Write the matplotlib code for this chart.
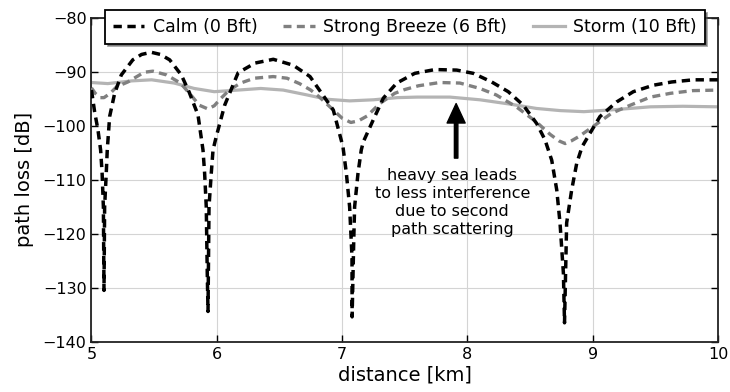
import matplotlib
matplotlib.use('Agg')
import matplotlib.pyplot as plt

# Path loss over distance for three sea states
calm_x = [5.0, 5.025, 5.052, 5.073, 5.085, 5.095, 5.1, 5.105, 5.118, 5.126, 5.145, 5.185,
          5.238, 5.33, 5.4, 5.477, 5.55, 5.624, 5.717, 5.78, 5.85, 5.89, 5.903, 5.916,
          5.924, 5.93, 5.938, 5.956, 5.97, 5.996, 6.063, 6.17, 6.305, 6.451, 6.61, 6.744,
          6.837, 6.93, 7.007, 7.034, 7.06, 7.079, 7.08, 7.093, 7.1, 7.127, 7.153, 7.169,
          7.249, 7.329, 7.436, 7.58, 7.741, 7.915, 8.047, 8.194, 8.326, 8.446, 8.553, 8.619,
          8.673, 8.713, 8.739, 8.766, 8.775, 8.792, 8.832, 8.872, 8.915, 8.978, 9.058, 9.191,
          9.324, 9.484, 9.63, 9.803, 10.0]
calm_y = [-93.4, -97.4, -100.8, -104.5, -108.8, -115.0, -130.5, -115.0, -108.8, -104.5, -98.3, -94.0,
          -90.6, -87.8, -86.8, -86.4, -86.8, -87.8, -90.6, -93.8, -98.0, -104.5, -108.8, -115.0,
          -127.3, -134.4, -115.0, -108.8, -104.5, -102.0, -96.2, -90.2, -88.4, -87.7, -88.8, -90.9,
          -94.0, -97.1, -103.9, -108.8, -115.0, -124.3, -135.4, -121.2, -115.0, -108.8, -104.5, -103.0,
          -98.9, -94.9, -92.1, -90.3, -89.6, -89.7, -90.3, -91.9, -93.7, -96.2, -99.6, -102.6,
          -106.4, -111.9, -118.0, -127.3, -136.5, -118.0, -111.9, -107.0, -103.9, -101.4, -98.3, -95.6,
          -93.7, -92.5, -91.9, -91.5, -91.5]

breeze_x = [5.0, 5.03, 5.07, 5.1, 5.15, 5.2, 5.29, 5.42, 5.49, 5.6, 5.71, 5.8, 5.86, 5.93,
            5.98, 6.03, 6.1, 6.19, 6.3, 6.45, 6.56, 6.66, 6.75, 6.82, 6.93, 7.0, 7.07, 7.13,
            7.2, 7.3, 7.42, 7.5, 7.61, 7.78, 7.94, 8.1, 8.23, 8.39, 8.55, 8.66, 8.73, 8.78,
            8.83, 8.89, 9.0, 9.15, 9.3, 9.46, 9.62, 9.8, 10.0]
breeze_y = [-93.0, -94.0, -94.8, -94.8, -94.0, -92.8, -91.9, -90.1, -89.9, -90.6, -92.1, -94.5, -96.2, -96.9,
            -96.3, -95.0, -93.4, -92.1, -91.2, -90.9, -91.2, -92.2, -93.4, -94.7, -97.1, -98.6, -99.4, -99.1,
            -98.2, -95.9, -94.0, -93.3, -92.6, -92.0, -92.1, -93.1, -94.3, -96.5, -99.3, -101.6, -102.8, -103.3,
            -102.8, -102.0, -100.2, -97.7, -96.2, -94.7, -94.0, -93.5, -93.4]

storm_x = [5.0, 5.13, 5.32, 5.48, 5.66, 5.82, 5.98, 6.17, 6.35, 6.53, 6.72, 6.88, 7.06,
           7.25, 7.44, 7.6, 7.86, 8.1, 8.34, 8.55, 8.74, 8.93, 9.19, 9.46, 9.72, 10.0]
storm_y = [-92.0, -92.2, -91.7, -91.5, -92.1, -93.1, -93.7, -93.4, -93.1, -93.4, -94.3, -95.1, -95.4,
           -95.2, -94.8, -94.7, -94.7, -95.2, -96.0, -96.8, -97.2, -97.4, -97.0, -96.5, -96.4, -96.5]

x_ticks = [5, 6, 7, 8, 9, 10]
y_ticks = [-140, -130, -120, -110, -100, -90, -80]

note = 'heavy sea leads\nto less interference\ndue to second\npath scattering'
arrow_x = 7.91
arrow_tip = -95.9
arrow_tail = -106.0

fig = plt.figure(figsize=(7.3, 3.92), dpi=100)
ax = fig.add_axes([0.1253, 0.1283, 0.8583, 0.8265])

ax.plot(calm_x, calm_y, color='black', lw=2.5, dashes=(2.4, 1.6), label='Calm (0 Bft)', zorder=4)
ax.plot(breeze_x, breeze_y, color='#808080', lw=2.4, dashes=(2.4, 1.6), label='Strong Breeze (6 Bft)', zorder=3)
ax.plot(storm_x, storm_y, color='#b4b4b4', lw=2.3, label='Storm (10 Bft)', zorder=2)

ax.set_xlim(5, 10)
ax.set_ylim(-140, -80)
ax.set_xticks(x_ticks)
ax.set_yticks(y_ticks)
ax.grid(True, color='#d4d4d4', lw=0.8)
ax.set_axisbelow(True)
ax.tick_params(direction='in', top=True, right=True, labelsize=11.5, length=5, width=1)
for sp in ax.spines.values():
    sp.set_linewidth(1.3)
    sp.set_color('#222222')

ax.set_xlabel('distance [km]', fontsize=14, labelpad=3)
ax.set_ylabel('path loss [dB]', fontsize=14, labelpad=6)

ax.annotate('', xy=(arrow_x, arrow_tip), xytext=(arrow_x, arrow_tail),
            arrowprops=dict(facecolor='black', edgecolor='black', width=2.5,
                            headwidth=13, headlength=14, shrink=0))
ax.text(7.88, -107.8, note, ha='center', va='top', fontsize=11.5, linespacing=1.25)

leg = ax.legend(loc='upper center', bbox_to_anchor=(0.5, 1.024), ncol=3, fontsize=12.5,
                frameon=True, fancybox=False, shadow=True, borderaxespad=0,
                handlelength=1.8, columnspacing=1.5, handletextpad=0.5, borderpad=0.45)
leg.get_frame().set_edgecolor('black')
leg.get_frame().set_linewidth(1.3)
leg.set_zorder(10)

plt.savefig('out.png', dpi=100)
